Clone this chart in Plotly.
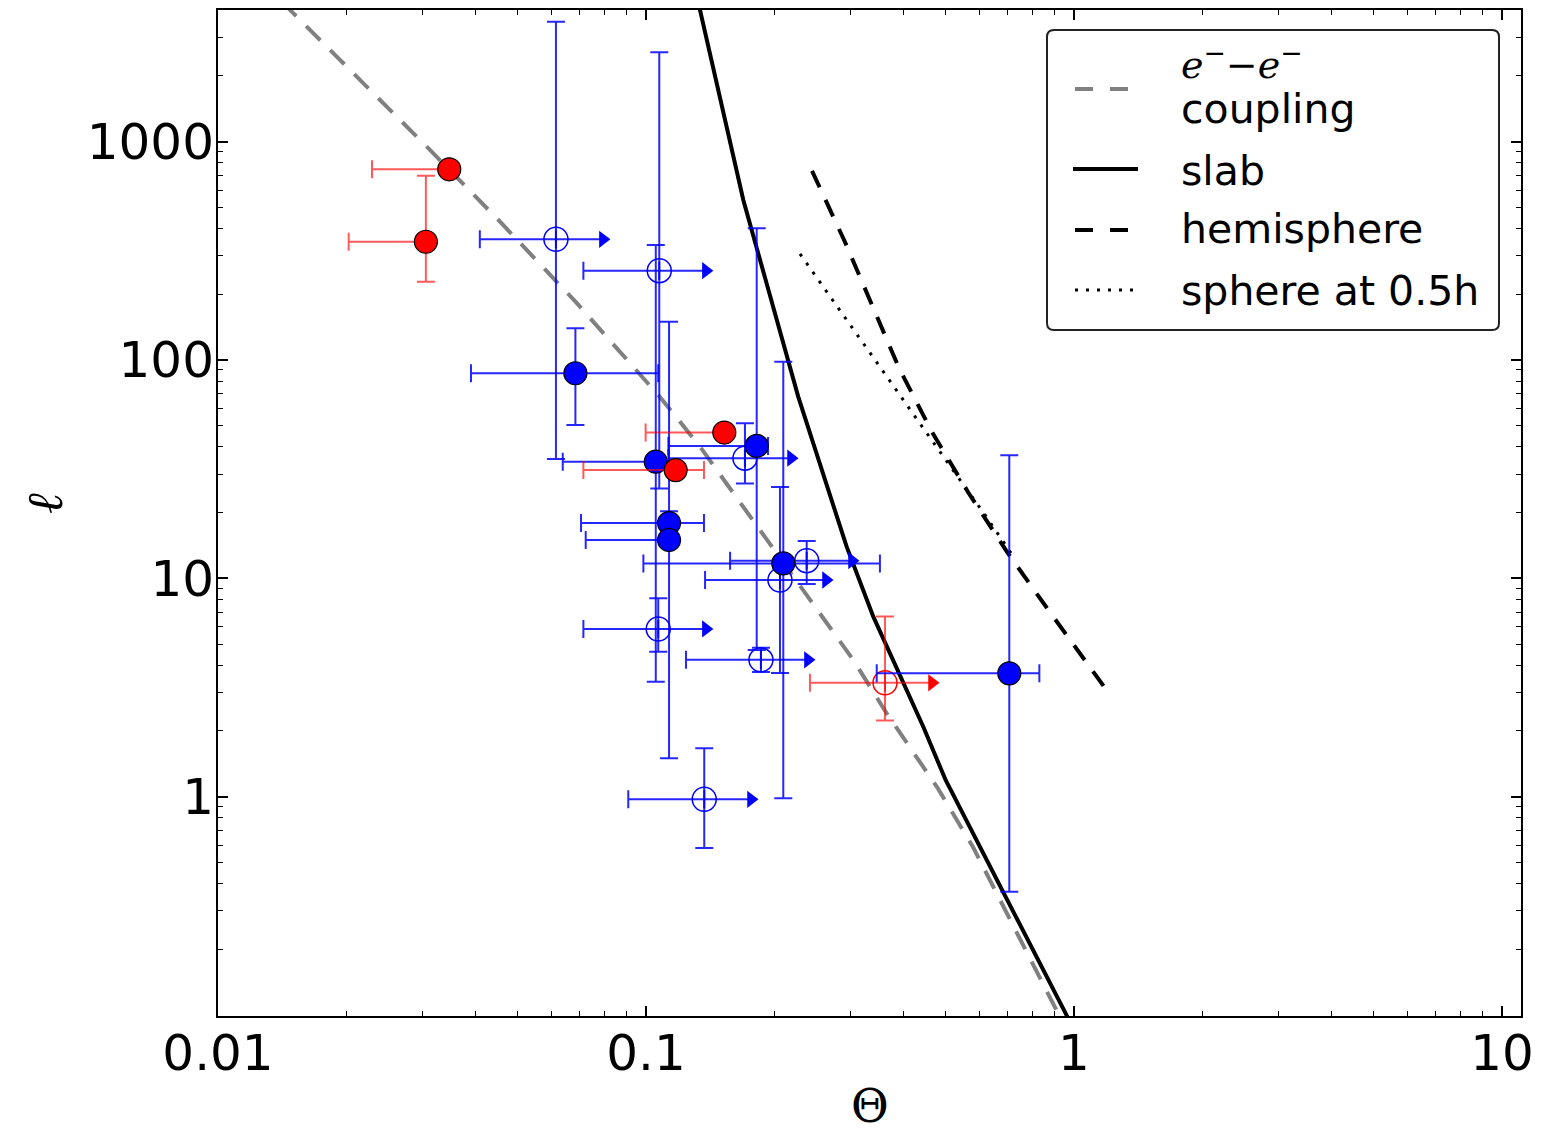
import plotly.graph_objects as go

# ---------------- curves (Theta, ell) ----------------
ee_theta = [0.01413, 0.01473, 0.03074, 0.04559, 0.06886, 0.1078, 0.1337, 0.1846,
            0.2291, 0.3050, 0.3650, 0.4786, 0.5808, 0.9175, 0.933]
ee_ell = [4365, 4012, 948.6, 430.1, 182.4, 67.7, 40.1, 16.64,
          9.15, 4.224, 2.407, 1.106, 0.5875, 0.1020, 0.0955]

slab_theta = [0.1324, 0.1337, 0.1688, 0.2268, 0.2943, 0.3397, 0.3922, 0.4445,
              0.5012, 0.6032, 0.9579, 0.966]
slab_ell = [4365, 4012, 540.6, 67.91, 13.95, 6.671, 3.541, 2.090,
            1.191, 0.5894, 0.1020, 0.0977]

hemi_theta = [0.2443, 0.2917, 0.3373, 0.3900, 0.4658, 0.5653, 0.6975, 0.8743, 1.2006]
hemi_ell = [734.3, 347.1, 178.6, 91.9, 46.8, 24.85, 13.20, 7.085, 3.014]

sph_theta = [0.2290, 0.2996, 0.3922, 0.5132, 0.6196, 0.7202]
sph_ell = [305.9, 144.7, 68.4, 32.7, 19.50, 12.65]

# ---------------- red filled points ----------------
rf_theta = [0.0347, 0.0306, 0.1524, 0.1173]
rf_ell = [747, 348, 46.5, 31.3]
rf_theta_lo = [0.0229, 0.0202, 0.0998, 0.0714]
rf_theta_hi = [0.0347, 0.0306, 0.1524, 0.1366]
rf_ell_lo = [747, 228, 46.5, 31.3]
rf_ell_hi = [747, 697, 46.5, 31.3]

# ---------------- red open point (lower limit in Theta) ----------------
ro_theta = [0.3618]
ro_ell = [3.32]
ro_theta_lo = [0.2416]
ro_theta_arrow = [0.4658]
ro_ell_lo = [2.23]
ro_ell_hi = [6.68]

# ---------------- blue filled points ----------------
bf_theta = [0.0684, 0.1054, 0.1132, 0.1132, 0.1814, 0.2093, 0.706]
bf_ell = [86.9, 34.2, 17.9, 14.98, 40.4, 11.7, 3.67]
bf_theta_lo = [0.039, 0.0639, 0.0705, 0.0723, 0.1128, 0.0986, 0.346]
bf_theta_hi = [0.1068, 0.1054, 0.1366, 0.1132, 0.1928, 0.352, 0.83]
bf_ell_lo = [50.4, 3.36, 15.7, 1.498, 4.69, 0.982, 0.3666]
bf_ell_hi = [139.7, 336, 20.3, 149.8, 401, 98.2, 36.6]

# ---------------- blue open points (lower limits in Theta) ----------------
bo_theta = [0.0616, 0.1074, 0.1703, 0.2374, 0.2056, 0.1068, 0.1856, 0.1368]
bo_ell = [357, 256.5, 35.5, 12.04, 9.82, 5.86, 4.23, 0.972]
bo_theta_lo = [0.0409, 0.0714, 0.1128, 0.1572, 0.1374, 0.0714, 0.124, 0.0909]
bo_theta_arrow = [0.0793, 0.138, 0.2182, 0.3029, 0.2634, 0.138, 0.239, 0.1759]
bo_ell_lo = [35.2, 25.8, 27.2, 9.42, 3.68, 4.61, 3.72, 0.581]
bo_ell_hi = [3545, 2568, 51.3, 14.8, 26.2, 8.1, 4.8, 1.665]

x_ticks = [0.01, 0.1, 1, 10]
x_ticktext = ["0.01", "0.1", "1", "10"]
y_ticks = [1, 10, 100, 1000]
y_ticktext = ["1", "10", "100", "1000"]

x_title = "Θ"
y_title = "<i>ℓ</i>"
legend_labels = ["coupling", "slab", "hemisphere", "sphere at 0.5h"]
ee_label = "<i>e</i><sup>−</sup>−<i>e</i><sup>−</sup>"

BLUE = "#0000ff"
RED = "#ff0000"
BLUE_ERR = "rgba(0,0,255,0.85)"
RED_ERR = "rgba(255,0,0,0.65)"
GRAY = "#808080"
SANS = "DejaVu Sans"
SERIF = "DejaVu Serif"

EE_DASH = "20px,14px"
HEMI_DASH = "18px,14px"
SPH_DASH = "3px,8px"

W, H = 1550, 1138
ML, MR, MT, MB = 218, 29, 10, 122

fig = go.Figure()

# curves
fig.add_trace(go.Scatter(x=ee_theta, y=ee_ell, mode="lines", showlegend=False,
                         line=dict(color=GRAY, width=4, dash=EE_DASH), name="e-e coupling"))
fig.add_trace(go.Scatter(x=slab_theta, y=slab_ell, mode="lines", showlegend=False,
                         line=dict(color="black", width=4), name="slab"))
fig.add_trace(go.Scatter(x=hemi_theta, y=hemi_ell, mode="lines", showlegend=False,
                         line=dict(color="black", width=4, dash=HEMI_DASH), name="hemisphere"))
fig.add_trace(go.Scatter(x=sph_theta, y=sph_ell, mode="lines", showlegend=False,
                         line=dict(color="black", width=3, dash=SPH_DASH), name="sphere at 0.5h"))


def err(v, lo, hi):
    return dict(type="data", symmetric=False,
                array=[h - c for c, h in zip(v, hi)],
                arrayminus=[c - l for c, l in zip(v, lo)])


def arrow_traces(theta, ell, arrow, col_line, col_head):
    xs, ys = [], []
    for t, e, a in zip(theta, ell, arrow):
        xs += [t, a, None]
        ys += [e, e, None]
    fig.add_trace(go.Scatter(x=xs, y=ys, mode="lines", showlegend=False,
                             hoverinfo="skip", line=dict(color=col_line, width=2)))
    fig.add_trace(go.Scatter(x=arrow, y=ell, mode="markers", showlegend=False,
                             hoverinfo="skip",
                             marker=dict(symbol="triangle-right", size=15,
                                         color=col_head, line=dict(width=0))))


# blue open (lower limits)
arrow_traces(bo_theta, bo_ell, bo_theta_arrow, BLUE_ERR, BLUE)
fig.add_trace(go.Scatter(
    x=bo_theta, y=bo_ell, mode="markers", showlegend=False,
    error_x=dict(err(bo_theta, bo_theta_lo, bo_theta), color=BLUE_ERR, thickness=2, width=9),
    error_y=dict(err(bo_ell, bo_ell_lo, bo_ell_hi), color=BLUE_ERR, thickness=2, width=9),
    marker=dict(symbol="circle", size=24, color="rgba(0,0,0,0)",
                line=dict(color=BLUE, width=1.5)),
))

# red open (lower limit)
arrow_traces(ro_theta, ro_ell, ro_theta_arrow, RED_ERR, RED)
fig.add_trace(go.Scatter(
    x=ro_theta, y=ro_ell, mode="markers", showlegend=False,
    error_x=dict(err(ro_theta, ro_theta_lo, ro_theta), color=RED_ERR, thickness=2, width=9),
    error_y=dict(err(ro_ell, ro_ell_lo, ro_ell_hi), color=RED_ERR, thickness=2, width=9),
    marker=dict(symbol="circle", size=24, color="rgba(0,0,0,0)",
                line=dict(color=RED, width=1.5)),
))

# blue filled
fig.add_trace(go.Scatter(
    x=bf_theta, y=bf_ell, mode="markers", showlegend=False,
    error_x=dict(err(bf_theta, bf_theta_lo, bf_theta_hi), color=BLUE_ERR, thickness=2, width=9),
    error_y=dict(err(bf_ell, bf_ell_lo, bf_ell_hi), color=BLUE_ERR, thickness=2, width=9),
    marker=dict(symbol="circle", size=23, color=BLUE, line=dict(color="black", width=1.2)),
))

# red filled
fig.add_trace(go.Scatter(
    x=rf_theta, y=rf_ell, mode="markers", showlegend=False,
    error_x=dict(err(rf_theta, rf_theta_lo, rf_theta_hi), color=RED_ERR, thickness=2, width=9),
    error_y=dict(err(rf_ell, rf_ell_lo, rf_ell_hi), color=RED_ERR, thickness=2, width=9),
    marker=dict(symbol="circle", size=23, color=RED, line=dict(color="black", width=1.2)),
))

x_minor = [m * 10 ** k for k in (-2, -1, 0) for m in range(2, 10)]
y_minor = [m * 10 ** k for k in (-1, 0, 1, 2, 3) for m in range(2, 10)]

axis_common = dict(
    type="log", showgrid=False, zeroline=False, automargin=False,
    showline=True, linecolor="black", linewidth=2, mirror="allticks",
    ticks="inside", ticklen=10, tickwidth=1.5, tickcolor="black",
    tickfont=dict(family=SANS, size=50, color="black"),
    ticklabelstandoff=-8,
)

fig.update_xaxes(
    **axis_common,
    range=[-2, 1.0444],
    tickmode="array", tickvals=x_ticks, ticktext=x_ticktext,
    minor=dict(tickmode="array", tickvals=x_minor, ticks="inside", ticklen=5,
               tickwidth=1.2, tickcolor="black", showgrid=False),
)
fig.update_yaxes(
    **axis_common,
    range=[-1.005, 3.603],
    tickmode="array", tickvals=y_ticks, ticktext=y_ticktext,
    minor=dict(tickmode="array", tickvals=y_minor, ticks="inside", ticklen=5,
               tickwidth=1.2, tickcolor="black", showgrid=False),
)


# ---------------- legend box (drawn by hand to match the layout) ----------------
PW, PH = W - ML - MR, H - MT - MB


def px_x(p):
    return (p - ML) / PW


def px_y(p):
    return (H - MB - p) / PH


x0, x1, y0, y1 = px_x(1047), px_x(1499), px_y(330), px_y(30)
rx, ry = 7 / PW, 7 / PH
box_path = (f"M{x0 + rx},{y1} L{x1 - rx},{y1} Q{x1},{y1} {x1},{y1 - ry} "
            f"L{x1},{y0 + ry} Q{x1},{y0} {x1 - rx},{y0} L{x0 + rx},{y0} "
            f"Q{x0},{y0} {x0},{y0 + ry} L{x0},{y1 - ry} Q{x0},{y1} {x0 + rx},{y1} Z")
shapes = [dict(type="path", xref="paper", yref="paper", path=box_path,
               line=dict(color="#222222", width=2), fillcolor="white", layer="above")]

samples = [  # (y px, x start, x end, color, width, dash)
    (89, 1075, 1129, GRAY, 4, "18px,17px"),
    (169, 1073, 1138, "black", 4, "solid"),
    (230, 1075, 1129, "black", 4, "18px,17px"),
    (290, 1075, 1138, "black", 3, SPH_DASH),
]
for yy, xa, xb, col, lw, ds in samples:
    shapes.append(dict(type="line", xref="paper", yref="paper",
                       x0=px_x(xa), x1=px_x(xb), y0=px_y(yy), y1=px_y(yy),
                       line=dict(color=col, width=lw, dash=ds), layer="above"))

annotations = [dict(xref="paper", yref="paper", x=px_x(1179), y=px_y(62),
                    xanchor="left", yanchor="middle", showarrow=False, text=ee_label,
                    font=dict(family=SERIF, size=38, color="black"))]
for txt, yc in zip(legend_labels, [109, 171, 229, 291]):
    annotations.append(dict(xref="paper", yref="paper", x=px_x(1179), y=px_y(yc),
                            xanchor="left", yanchor="middle", showarrow=False, text=txt,
                            font=dict(family=SANS, size=41, color="black")))

# axis titles
annotations.append(dict(xref="paper", yref="paper", x=0.5, y=px_y(1106),
                        xanchor="center", yanchor="middle", showarrow=False, text=x_title,
                        font=dict(family=SERIF, size=46, color="black")))
annotations.append(dict(xref="paper", yref="paper", x=px_x(45), y=px_y(503),
                        xanchor="center", yanchor="middle", showarrow=False, text=y_title,
                        textangle=-90, font=dict(family=SERIF, size=50, color="black")))

fig.update_layout(
    width=W, height=H,
    margin=dict(l=ML, r=MR, t=MT, b=MB),
    paper_bgcolor="white", plot_bgcolor="white",
    showlegend=False,
    shapes=shapes, annotations=annotations,
)

fig.write_html("out.html")
